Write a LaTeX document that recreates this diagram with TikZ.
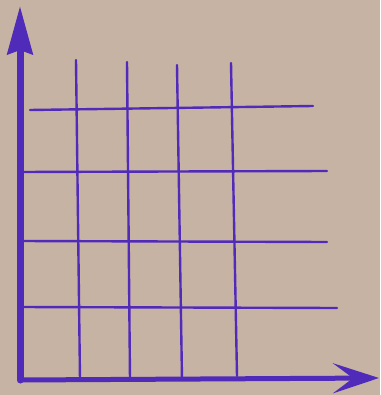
\documentclass[tikz,border=0pt]{standalone}
\usepackage{tikz}
\usetikzlibrary{arrows.meta}

\definecolor{paper}{RGB}{199,179,164}
\definecolor{ink}{RGB}{80,42,184}

\tikzset{
  gridline/.style={draw=ink,line width=2.4pt,line cap=round},
  axisline/.style={draw=ink,line cap=round}
}

\begin{document}
\begin{tikzpicture}[x=1pt,y=-1pt]
  \fill[paper] (0,0) rectangle (380,395);
  \useasboundingbox (0,0) rectangle (380,395);

  \coordinate (O) at (20,380);
  \coordinate (Ytip) at (20,6);
  \coordinate (Xtip) at (379,378);

  % vertical grid lines
  \coordinate (V1t) at (76,60);   \coordinate (V1b) at (80,380);
  \coordinate (V2t) at (127,62);  \coordinate (V2b) at (130,380);
  \coordinate (V3t) at (177,65);  \coordinate (V3b) at (182,380);
  \coordinate (V4t) at (231,63);  \coordinate (V4b) at (237,376);
  % horizontal grid lines
  \coordinate (H1l) at (30,110);  \coordinate (H1r) at (313,106);
  \coordinate (H2l) at (20,172);  \coordinate (H2r) at (327,171);
  \coordinate (H3l) at (20,241);  \coordinate (H3r) at (327,242);
  \coordinate (H4l) at (20,307);  \coordinate (H4r) at (337,308);

  \path[gridline] (V1t) edge (V1b) (V2t) edge (V2b)
                  (V3t) edge (V3b) (V4t) edge (V4b);
  \path[gridline] (H1l) edge (H1r) (H2l) edge (H2r)
                  (H3l) edge (H3r) (H4l) edge (H4r);

  \draw[axisline,line width=5pt,-{Stealth[length=46pt,width=30pt,inset=20pt]}] (O) -- (Xtip);
  \draw[axisline,line width=7pt,-{Stealth[length=48pt,width=25pt,inset=4pt]}] (O) -- (Ytip);
\end{tikzpicture}
\end{document}
